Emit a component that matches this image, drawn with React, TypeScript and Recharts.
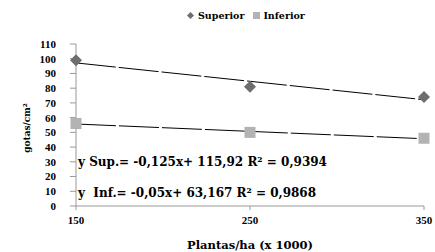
import React from "react";
import { ComposedChart, Line, XAxis, YAxis, Label } from "recharts";

// plantas/ha (x 1000)
const plantas = [150, 250, 350];
// gotas/cm² measured
const superior = [99, 81, 74];
const inferior = [56, 50, 46];
// linear trend lines (values at each x, from the printed equations)
const superiorTrend = [97.17, 84.67, 72.17];
const inferiorTrend = [55.67, 50.67, 45.67];
const yTicks = [0, 10, 20, 30, 40, 50, 60, 70, 80, 90, 100, 110];

const eqSup = "y Sup.= -0,125x+ 115,92 R² = 0,9394";
const eqInf = "y  Inf.= -0,05x+ 63,167 R² = 0,9868";

const SERIF = '"Liberation Serif", serif';
const WIDE = '"DejaVu Serif", serif';

const data = plantas.map((x, i) => ({
  x,
  sup: superior[i],
  inf: inferior[i],
  supTrend: superiorTrend[i],
  infTrend: inferiorTrend[i],
}));

const Diamond = (props: any) => {
  const { cx, cy } = props;
  if (cx == null || cy == null) return null;
  const r = 6;
  return (
    <path
      d={`M${cx},${cy - r} L${cx + r},${cy} L${cx},${cy + r} L${cx - r},${cy} Z`}
      fill="#6e6e6e"
    />
  );
};

const Square = (props: any) => {
  const { cx, cy } = props;
  if (cx == null || cy == null) return null;
  const s = 11;
  return <rect x={cx - s / 2} y={cy - s / 2} width={s} height={s} fill="#b3b3b3" />;
};

export default function App() {
  const tickStyle = { fill: "#000", fontSize: 11, fontWeight: 700, fontFamily: SERIF };
  return (
    <div style={{ position: "absolute", left: 0, top: 0, width: 435, height: 252, background: "#fff" }}>
      <ComposedChart
        width={435}
        height={252}
        data={data}
        margin={{ top: 44, right: 11, bottom: 0, left: 0 }}
      >
        <XAxis
          dataKey="x"
          type="number"
          domain={[150, 350]}
          ticks={plantas}
          height={46}
          tickSize={4}
          tickMargin={6}
          stroke="#999"
          tick={tickStyle}
        >
          <Label
            value="Plantas/ha (x 1000)"
            position="insideBottom"
            offset={3}
            style={{ fill: "#000", fontSize: 11.5, fontWeight: 700, fontFamily: WIDE }}
          />
        </XAxis>
        <YAxis
          domain={[0, 110]}
          ticks={yTicks}
          width={76}
          tickSize={6}
          tickMargin={14}
          stroke="#999"
          tick={tickStyle}
          interval={0}
        />
        <Line dataKey="supTrend" stroke="#000" strokeWidth={1} strokeDasharray="40 3" dot={false} isAnimationActive={false} />
        <Line dataKey="infTrend" stroke="#000" strokeWidth={1} strokeDasharray="40 3" dot={false} isAnimationActive={false} />
        <Line dataKey="sup" stroke="none" dot={<Diamond />} activeDot={false} isAnimationActive={false} />
        <Line dataKey="inf" stroke="none" dot={<Square />} activeDot={false} isAnimationActive={false} />
      </ComposedChart>

      {/* y axis title */}
      <svg width={40} height={252} style={{ position: "absolute", left: 0, top: 0 }}>
        <text
          x={30}
          y={128}
          transform="rotate(-90, 30, 128)"
          textAnchor="middle"
          fontSize={9}
          fontWeight={700}
          fontFamily={WIDE}
          fill="#000"
        >
          gotas/cm²
        </text>
      </svg>

      {/* legend */}
      <div style={{ position: "absolute", top: 8, left: 187, height: 14, display: "flex", alignItems: "center", fontSize: 9.5, fontWeight: 700, color: "#000", fontFamily: WIDE }}>
        <svg width={7} height={7} style={{ marginRight: 4 }}>
          <path d="M3.5,0 L7,3.5 L3.5,7 L0,3.5 Z" fill="#6e6e6e" />
        </svg>
        <span>Superior</span>
        <svg width={7} height={7} style={{ marginLeft: 9, marginRight: 3 }}>
          <rect x={0} y={0} width={7} height={7} fill="#b3b3b3" />
        </svg>
        <span>Inferior</span>
      </div>

      {/* trend equations */}
      <div style={{ position: "absolute", left: 78, top: 155, fontSize: 12, fontWeight: 700, color: "#000", whiteSpace: "pre", fontFamily: WIDE }}>
        {eqSup}
      </div>
      <div style={{ position: "absolute", left: 78, top: 186, fontSize: 12, fontWeight: 700, color: "#000", whiteSpace: "pre", fontFamily: WIDE }}>
        {eqInf}
      </div>
    </div>
  );
}
